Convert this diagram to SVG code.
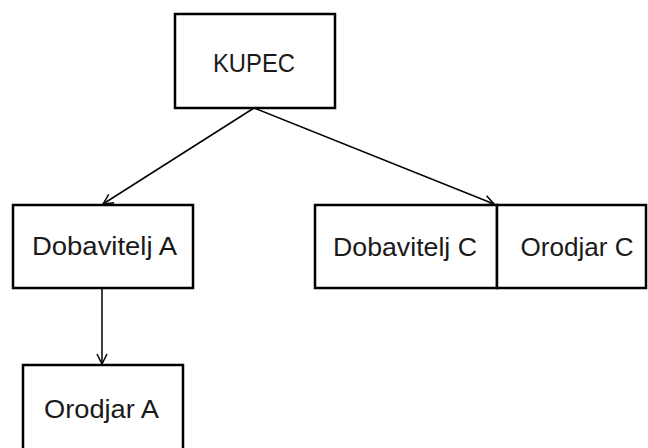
<svg xmlns="http://www.w3.org/2000/svg" width="648" height="448" viewBox="0 0 648 448">
<style>
.box{fill:#fff;stroke:#000;stroke-width:2.5}
.lbl{font-family:"Liberation Sans",Arial,sans-serif;font-size:25px;fill:#1a1a1a;text-anchor:middle}
.conn{fill:none;stroke:#000;stroke-width:1.5}
</style>
<defs>
<marker id="arr" viewBox="0 0 12 12" refX="11" refY="6" markerWidth="12" markerHeight="12" markerUnits="userSpaceOnUse" orient="auto">
<polyline points="1,1 11,6 1,11" fill="none" stroke="#000" stroke-width="1.5"/>
</marker>
</defs>
<rect width="648" height="448" fill="#fff"/>
<g id="kupec"><rect class="box" x="175" y="14" width="160" height="94"/><text class="lbl" x="254" y="72" textLength="82" lengthAdjust="spacingAndGlyphs">KUPEC</text></g>
<g id="dobavitelj-a"><rect class="box" x="13" y="205" width="180" height="83"/><text class="lbl" x="104.5" y="255" textLength="145" lengthAdjust="spacingAndGlyphs">Dobavitelj A</text></g>
<g id="dobavitelj-c"><rect class="box" x="315" y="205" width="182" height="83"/><text class="lbl" x="405" y="256" textLength="144" lengthAdjust="spacingAndGlyphs">Dobavitelj C</text></g>
<g id="orodjar-c"><rect class="box" x="497" y="205" width="149" height="83"/><text class="lbl" x="577" y="256" textLength="113" lengthAdjust="spacingAndGlyphs">Orodjar C</text></g>
<g id="orodjar-a"><rect class="box" x="23" y="365" width="160" height="90"/><text class="lbl" x="101.5" y="418" textLength="115" lengthAdjust="spacingAndGlyphs">Orodjar A</text></g>
<g id="connectors">
<line class="conn" x1="254" y1="108" x2="103" y2="204" marker-end="url(#arr)"/>
<line class="conn" x1="254" y1="108" x2="494" y2="204" marker-end="url(#arr)"/>
<line class="conn" x1="102" y1="288" x2="102" y2="364" marker-end="url(#arr)"/>
</g>
</svg>
